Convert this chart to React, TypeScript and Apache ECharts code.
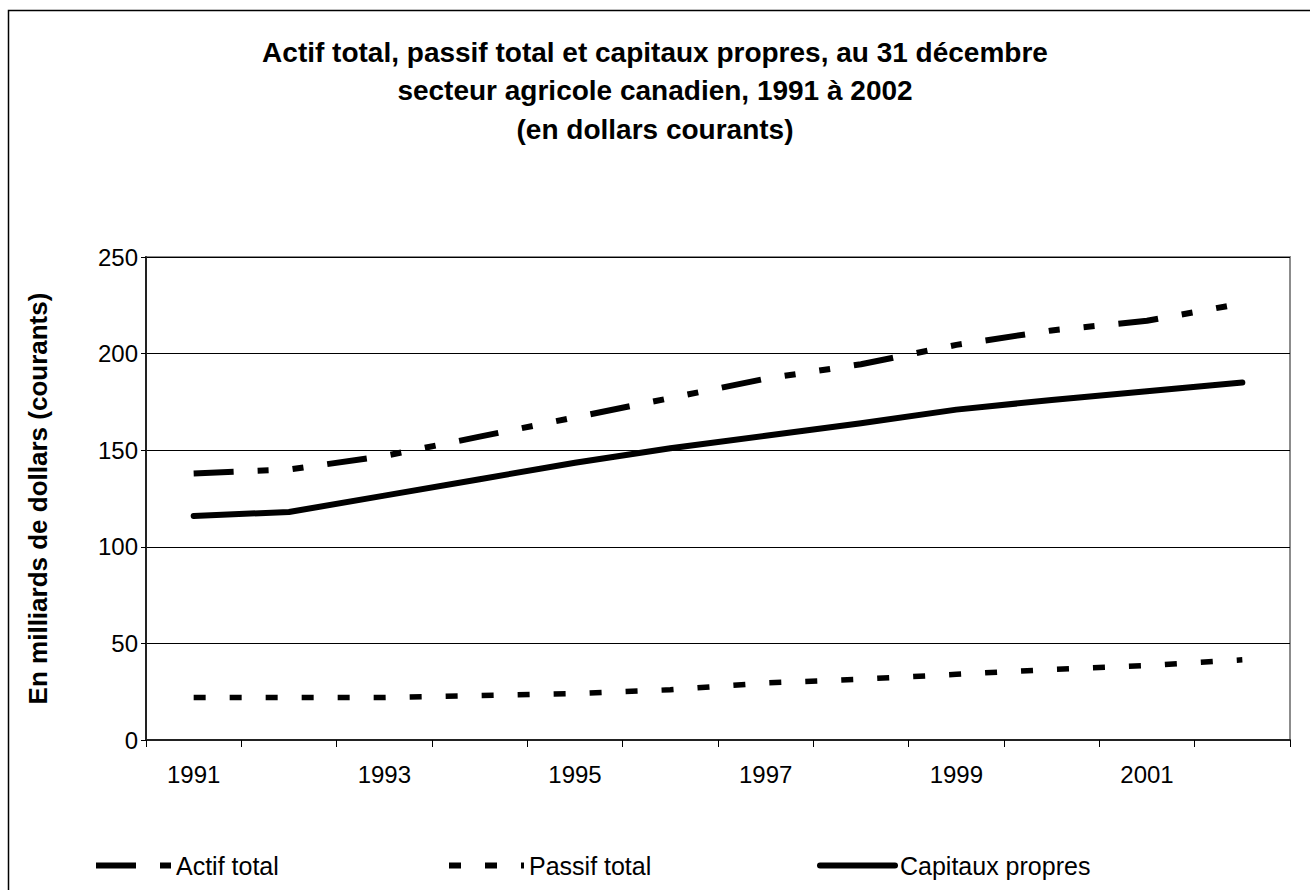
import React, { useEffect, useRef } from "react";
import * as echarts from "echarts";

const years = ["1991", "1992", "1993", "1994", "1995", "1996", "1997", "1998", "1999", "2000", "2001", "2002"];
const actifTotal = [138, 140, 147, 157, 167, 177, 187, 194.5, 204.5, 212, 217, 226];
const passifTotal = [22, 22, 22, 23, 24, 26, 29.5, 31.5, 34, 36.5, 38.5, 41.5];
const capitauxPropres = [116, 118, 126.5, 135, 143.5, 151, 157.5, 164, 171, 176, 180.5, 185];
const seriesNames = ["Actif total", "Passif total", "Capitaux propres"];
const titleText = "Actif total, passif total et capitaux propres, au 31 décembre\nsecteur agricole canadien, 1991 à 2002\n(en dollars courants)";
const yAxisName = "En milliards de dollars (courants)";

const FONT = "'Liberation Sans', Arial, sans-serif";

export default function App() {
  const ref = useRef<HTMLDivElement>(null);
  useEffect(() => {
    if (!ref.current) return;
    const chart = echarts.init(ref.current, undefined, { renderer: "svg" });
    const legendBase = {
      orient: "horizontal",
      itemWidth: 75,
      itemHeight: 14,
      itemGap: 5,
      top: 853,
      textStyle: { fontFamily: FONT, fontSize: 25, color: "#000", padding: [0, 0, 0, 0] },
      lineStyle: { width: 6 },
      itemStyle: { opacity: 0, borderWidth: 0 },
      padding: 0,
    };
    chart.setOption({
      animation: false,
      backgroundColor: "#fff",
      textStyle: { fontFamily: FONT },
      title: {
        text: titleText,
        left: "center",
        top: 28,
        textStyle: {
          fontFamily: FONT,
          fontSize: 28,
          fontWeight: "bold",
          color: "#000",
          lineHeight: 38.5,
        },
      },
      graphic: [
        {
          type: "rect",
          shape: { x: 8.5, y: 10.5, width: 1400, height: 1000 },
          style: { fill: "none", stroke: "#000", lineWidth: 1.5 },
          silent: true,
          z: -1,
        },
      ],
      legend: [
        { ...legendBase, left: 93, data: [seriesNames[0]] },
        { ...legendBase, left: 446, data: [seriesNames[1]] },
        { ...legendBase, left: 817, data: [seriesNames[2]] },
      ],
      grid: {
        left: 146,
        right: 20,
        top: 257,
        bottom: 150,
        show: true,
        borderColor: "#8c8c8c",
        borderWidth: 2,
        backgroundColor: "#fff",
      },
      xAxis: {
        type: "category",
        data: years,
        boundaryGap: true,
        axisLine: { show: true, lineStyle: { color: "#222", width: 2 } },
        axisTick: { show: true, interval: 0, length: 7, lineStyle: { color: "#000", width: 1 } },
        axisLabel: {
          interval: 1,
          fontFamily: FONT,
          fontSize: 24,
          color: "#000",
          margin: 22,
        },
        splitLine: { show: false },
      },
      yAxis: {
        type: "value",
        min: 0,
        max: 250,
        interval: 50,
        name: yAxisName,
        nameLocation: "middle",
        nameGap: 95,
        nameRotate: 90,
        nameTextStyle: {
          fontFamily: FONT,
          fontSize: 26,
          fontWeight: "bold",
          color: "#000",
        },
        axisLine: { show: true, lineStyle: { color: "#222", width: 2 } },
        axisTick: { show: true, length: 5, lineStyle: { color: "#000", width: 1 } },
        axisLabel: { fontFamily: FONT, fontSize: 24, color: "#000", margin: 8 },
        splitLine: { show: true, lineStyle: { color: "#000", width: 1 } },
      },
      series: [
        {
          name: seriesNames[0],
          type: "line",
          data: actifTotal,
          symbol: "none",
          lineStyle: { color: "#000", width: 6, type: [40, 24, 11, 24, 11, 24], cap: "butt" },
          itemStyle: { color: "#000" },
        },
        {
          name: seriesNames[1],
          type: "line",
          data: passifTotal,
          symbol: "none",
          lineStyle: { color: "#000", width: 5.5, type: [12, 24], cap: "butt" },
          itemStyle: { color: "#000" },
        },
        {
          name: seriesNames[2],
          type: "line",
          data: capitauxPropres,
          symbol: "none",
          lineStyle: { color: "#000", width: 6, type: "solid", cap: "round", join: "round" },
          itemStyle: { color: "#000" },
        },
      ],
    });
    return () => chart.dispose();
  }, []);
  return (
    <div
      ref={ref}
      style={{ position: "absolute", left: 0, top: 0, width: 1310, height: 890 }}
    />
  );
}
